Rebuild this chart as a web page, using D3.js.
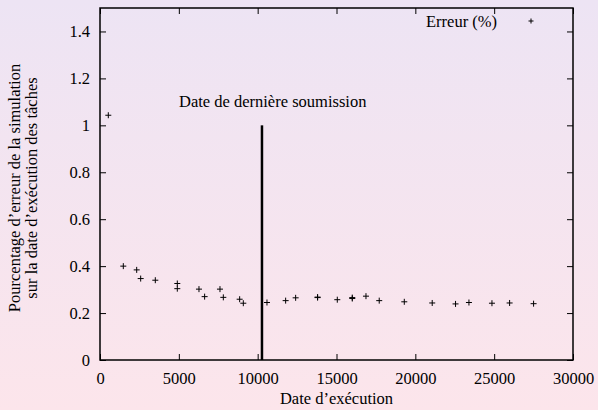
<!DOCTYPE html>
<html>
<head>
<meta charset="utf-8">
<script src="https://cdn.jsdelivr.net/npm/d3@7"></script>
<style>
  body { margin: 0; }
  svg { display: block; }
  svg text { font-family: 'Liberation Serif', 'Times New Roman', serif !important; fill: #000; }
</style>
</head>
<body>
<div id="chart"></div>
<script>
'use strict'
// data
var dates = [527, 1478, 2327, 2580, 3508, 4903, 4903, 6278, 6636, 7610, 7822, 8858, 9089,
  10590, 11775, 12409, 13800, 13800, 15050, 16000, 16000, 16870, 17710, 19300,
  21070, 22550, 23400, 24860, 25980, 27500]
var errors = [1.043, 0.40, 0.384, 0.347, 0.340, 0.326, 0.304, 0.302, 0.270, 0.302, 0.267, 0.259, 0.242,
  0.245, 0.253, 0.265, 0.266, 0.268, 0.257, 0.266, 0.262, 0.272, 0.253, 0.248,
  0.243, 0.239, 0.245, 0.242, 0.243, 0.240]
var lastSubmission = 10273
var xTicks = [0, 5000, 10000, 15000, 20000, 25000, 30000]
var yTicks = [0, 0.2, 0.4, 0.6, 0.8, 1, 1.2, 1.4]

var W = 598, H = 410
var m = {left: 100, right: 25, top: 8, bottom: 50}
var FONT = "'Liberation Serif', 'Times New Roman', serif"

var svg = d3.select('#chart').append('svg')
  .attr('width', W).attr('height', H)
  .attr('font-family', FONT)

var grad = svg.append('defs').append('linearGradient')
  .attr('id', 'bg').attr('x1', 0).attr('y1', 0).attr('x2', 0).attr('y2', 1)
grad.append('stop').attr('offset', '0%').attr('stop-color', '#ede4f4')
grad.append('stop').attr('offset', '100%').attr('stop-color', '#fce5eb')
svg.append('rect').attr('width', W).attr('height', H).attr('fill', 'url(#bg)')

var x = d3.scaleLinear().domain([0, 30000]).range([m.left, W - m.right])
var y = d3.scaleLinear().domain([0, 1.5]).range([H - m.bottom, m.top])

var fs = 16.5
var tl = 6

// ticks on all four sides, pointing inward
function axis (gen, tr) {
  var g = svg.append('g').attr('transform', tr).call(gen)
    .attr('font-family', FONT).attr('font-size', fs)
  g.select('.domain').remove()
  g.selectAll('line').attr('stroke', '#000').attr('stroke-width', 1)
  return g
}
axis(d3.axisBottom(x).tickValues(xTicks).tickSize(-tl).tickPadding(12).tickFormat(d3.format('d')),
  `translate(0,${y(0)})`)
axis(d3.axisTop(x).tickValues(xTicks).tickSize(-tl).tickFormat(''), `translate(0,${y(1.5)})`)
axis(d3.axisLeft(y).tickValues(yTicks).tickSize(-tl).tickPadding(10).tickFormat(d3.format('')),
  `translate(${x(0)},0)`)
axis(d3.axisRight(y).tickValues(yTicks).tickSize(-tl).tickFormat(''), `translate(${x(30000)},0)`)

// frame
svg.append('rect')
  .attr('x', x(0)).attr('y', y(1.5))
  .attr('width', x(30000) - x(0)).attr('height', y(0) - y(1.5))
  .attr('fill', 'none').attr('stroke', '#000').attr('stroke-width', 1.5)

// last submission line
svg.append('line')
  .attr('x1', x(lastSubmission)).attr('x2', x(lastSubmission))
  .attr('y1', y(1)).attr('y2', y(0))
  .attr('stroke', '#000').attr('stroke-width', 2.5)
svg.append('text')
  .attr('x', 179).attr('y', 107)
  .attr('font-size', fs)
  .text('Date de dernière soumission')

// points as "+"
var s = 3
var pts = svg.append('g')
dates.forEach((d, i) => {
  pts.append('path')
    .attr('d', `M${x(d) - s},${y(errors[i])}h${2 * s}M${x(d)},${y(errors[i]) - s}v${2 * s}`)
    .attr('stroke', '#000').attr('stroke-width', 1).attr('fill', 'none')
})

// legend
svg.append('text')
  .attr('x', 497).attr('y', 27).attr('text-anchor', 'end')
  .attr('font-size', fs).text('Erreur (%)')
svg.append('path')
  .attr('d', `M${531 - 2.5},21h5M531,${21 - 2.5}v5`)
  .attr('stroke', '#000').attr('stroke-width', 1)

// axis titles
svg.append('text')
  .attr('x', (x(0) + x(30000)) / 2).attr('y', 404).attr('text-anchor', 'middle')
  .attr('font-size', fs).text('Date d’exécution')
var yt = svg.append('text')
  .attr('transform', `translate(20,188) rotate(-90)`)
  .attr('text-anchor', 'middle').attr('font-size', fs)
yt.append('tspan').attr('x', 0).attr('dy', 0).text('Pourcentage d’erreur de la simulation')
yt.append('tspan').attr('x', 0).attr('dy', 17).text('sur la date d’exécution des tâches')
</script>
</body>
</html>
